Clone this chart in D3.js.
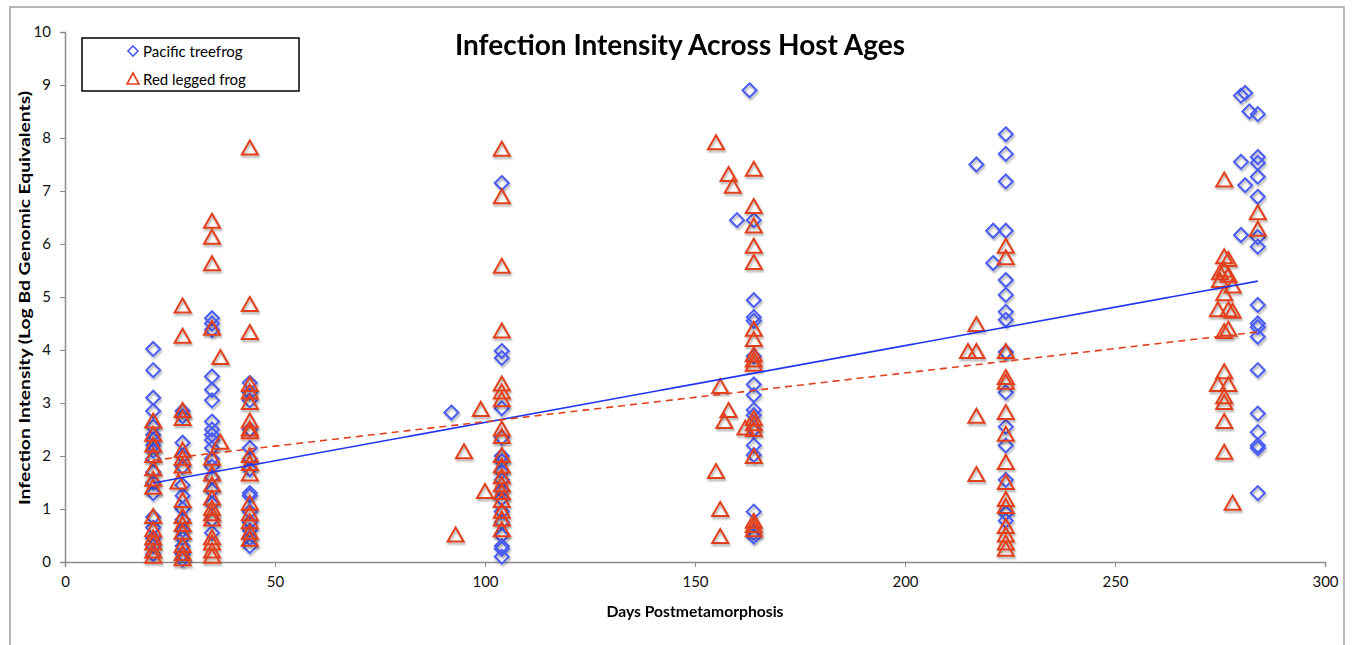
<!DOCTYPE html>
<html>
<head>
<meta charset="utf-8">
<script src="https://cdn.jsdelivr.net/npm/d3@7"></script>
<style>
  body { margin: 0; background: #fff; }
  svg { font-family: Lato, "Open Sans", sans-serif; }
</style>
</head>
<body>
<svg id="chart" width="1354" height="645"></svg>
<script>
// DATA: [days postmetamorphosis, log Bd genomic equivalents]
var pacificTreefrog = [
  [21,4.02],[21,3.62],[21,3.1],[21,2.85],[21,2.55],[21,2.4],[21,2.3],[21,2.2],[21,2.1],[21,1.95],[21,1.7],[21,1.5],[21,1.3],[21,0.85],[21,0.65],[21,0.45],[21,0.3],[21,0.15],
  [28,2.85],[28,2.75],[28,2.25],[28,2.0],[28,1.8],[28,1.45],[28,1.25],[28,1.0],[28,0.8],[28,0.6],[28,0.45],[28,0.3],[28,0.15],[28,0.05],
  [35,4.6],[35,4.5],[35,4.38],[35,3.5],[35,3.25],[35,3.05],[35,2.65],[35,2.5],[35,2.4],[35,2.3],[35,2.15],[35,1.95],[35,1.8],[35,1.6],[35,1.35],[35,1.1],[35,0.8],[35,0.55],
  [44,3.38],[44,3.2],[44,3.05],[44,2.5],[44,2.15],[44,1.95],[44,1.75],[44,1.3],[44,1.25],[44,0.95],[44,0.75],[44,0.6],[44,0.45],[44,0.3],
  [92,2.82],
  [104,7.15],[104,3.98],[104,3.85],[104,2.9],[104,2.35],[104,2.0],[104,1.9],[104,1.7],[104,1.55],[104,1.35],[104,1.2],[104,0.95],[104,0.75],[104,0.5],[104,0.3],[104,0.25],[104,0.1],
  [160,6.45],[163,8.9],
  [164,6.45],[164,4.94],[164,4.62],[164,4.55],[164,3.88],[164,3.35],[164,3.15],[164,2.87],[164,2.77],[164,2.5],[164,2.2],[164,2.02],[164,0.95],[164,0.55],[164,0.48],
  [217,7.5],[221,6.25],[221,5.64],
  [224,8.07],[224,7.7],[224,7.18],[224,6.25],[224,5.32],[224,5.04],[224,4.72],[224,4.57],[224,3.96],[224,3.2],[224,2.55],[224,2.2],[224,1.55],[224,0.92],[224,0.78],
  [280,8.8],[280,7.55],[280,6.17],[281,8.85],[281,7.11],[282,8.5],
  [284,8.45],[284,7.64],[284,7.53],[284,7.27],[284,6.89],[284,6.13],[284,5.95],[284,4.85],[284,4.5],[284,4.43],[284,4.25],[284,3.62],[284,2.8],[284,2.45],[284,2.2],[284,2.15],[284,1.3]
];

var redLeggedFrog = [
  [21,2.65],[21,2.4],[21,2.2],[21,2.0],[21,1.75],[21,1.55],[21,1.4],[21,0.85],[21,0.6],[21,0.45],[21,0.35],[21,0.2],[21,0.1],
  [27,1.5],
  [28,4.82],[28,4.25],[28,2.85],[28,2.7],[28,2.1],[28,1.95],[28,1.8],[28,1.15],[28,0.85],[28,0.7],[28,0.55],[28,0.3],[28,0.15],[28,0.05],
  [35,6.42],[35,6.12],[35,5.62],[35,4.4],[35,1.95],[35,1.65],[35,1.45],[35,1.2],[35,1.0],[35,0.9],[35,0.8],[35,0.45],[35,0.35],[35,0.2],[35,0.1],
  [37,3.85],[37,2.25],
  [44,7.8],[44,4.85],[44,4.32],[44,3.34],[44,3.2],[44,3.0],[44,2.65],[44,2.5],[44,2.45],[44,2.0],[44,1.85],[44,1.65],[44,1.1],[44,0.9],[44,0.75],[44,0.55],[44,0.42],
  [93,0.5],[95,2.07],[99,2.87],[100,1.32],
  [104,7.78],[104,6.88],[104,5.57],[104,4.35],[104,3.35],[104,3.2],[104,3.05],[104,2.5],[104,2.36],[104,2.0],[104,1.8],[104,1.6],[104,1.45],[104,1.3],[104,1.15],[104,0.95],[104,0.8],[104,0.6],
  [155,7.9],[155,1.7],[156,3.3],[156,0.98],[156,0.47],[157,2.64],[158,7.3],[158,2.85],[159,7.08],[162,2.52],
  [164,7.4],[164,6.7],[164,6.33],[164,5.95],[164,5.64],[164,4.38],[164,4.19],[164,3.9],[164,3.8],[164,3.72],[164,2.7],[164,2.6],[164,2.49],[164,1.98],[164,0.76],[164,0.68],[164,0.6],
  [215,3.96],[217,4.47],[217,3.96],[217,2.74],[217,1.64],
  [224,5.95],[224,5.73],[224,3.96],[224,3.47],[224,3.38],[224,2.81],[224,2.4],[224,1.87],[224,1.49],[224,1.17],[224,1.04],[224,0.66],[224,0.5],[224,0.35],[224,0.23],
  [274.5,4.75],[274.5,3.34],[275,5.45],[275,5.3],
  [276,7.2],[276,5.75],[276,5.5],[276,5.05],[276,4.34],[276,3.58],[276,3.11],[276,3.0],[276,2.64],[276,2.06],
  [277,5.7],[277,5.4],[277,4.75],[277,4.38],[277,3.34],
  [278,5.2],[278,4.72],[278,1.1],
  [284,6.58],[284,6.27]
];

// linear trend lines, endpoints
var pacificTrend = [[21,1.49],[284,5.3]];
var redTrend = [[21,1.92],[284,4.34]];

var xTicks = [0,50,100,150,200,250,300];
var yTicks = [0,1,2,3,4,5,6,7,8,9,10];

var blue = "#4b5cf2";
var red = "#e2401d";

// SETUP

var svg = d3.select("#chart");

var x = d3.scaleLinear().domain([0,300]).range([65,1325]);
var y = d3.scaleLinear().domain([0,10]).range([562,32]);

var defs = svg.append("defs");
var f = defs.append("filter").attr("id","shadow").attr("x","-50%").attr("y","-50%").attr("width","200%").attr("height","200%");
f.append("feDropShadow").attr("dx",1).attr("dy",2).attr("stdDeviation",1).attr("flood-color","#000").attr("flood-opacity",0.35);

// outer frame
svg.append("rect").attr("x",10).attr("y",7).attr("width",1334).attr("height",660)
  .attr("fill","none").attr("stroke","#a0a0a0").attr("stroke-width",1.5);

// axes
var xAxis = svg.append("g").attr("transform","translate(0," + y(0) + ")")
  .call(d3.axisBottom(x).tickValues(xTicks).tickSize(5).tickPadding(9).tickFormat(d3.format("d")));
var yAxis = svg.append("g").attr("transform","translate(" + x(0) + ",0)")
  .call(d3.axisLeft(y).tickValues(yTicks).tickSize(5).tickPadding(9).tickFormat(d3.format("d")));

[xAxis, yAxis].forEach(function(a) {
  a.select(".domain").attr("stroke","#8c8c8c").attr("stroke-width",1.5);
  a.selectAll(".tick line").attr("stroke","#8c8c8c").attr("stroke-width",1);
  a.selectAll(".tick text").attr("font-size",15).attr("fill","#111").attr("font-family","Lato, sans-serif");
});

// markers
var diamond = "M0,-7L7,0L0,7L-7,0Z";
var triangle = "M0,-8L8,6L-8,6Z";

svg.append("g").attr("filter","url(#shadow)").selectAll("path").data(pacificTreefrog).enter()
  .append("path").attr("d", diamond)
  .attr("transform", function(d) { return "translate(" + x(d[0]) + "," + y(d[1]) + ")"; })
  .attr("fill","none").attr("stroke",blue).attr("stroke-width",2);

svg.append("g").attr("filter","url(#shadow)").selectAll("path").data(redLeggedFrog).enter()
  .append("path").attr("d", triangle)
  .attr("transform", function(d) { return "translate(" + x(d[0]) + "," + y(d[1]) + ")"; })
  .attr("fill","none").attr("stroke",red).attr("stroke-width",2);

// trend lines
var line = d3.line().x(function(d) { return x(d[0]); }).y(function(d) { return y(d[1]); });
svg.append("path").datum(pacificTrend).attr("d", line).attr("fill","none").attr("stroke","#1f35f0").attr("stroke-width",1.6);
svg.append("path").datum(redTrend).attr("d", line).attr("fill","none").attr("stroke",red).attr("stroke-width",1.6).attr("stroke-dasharray","7,5");

// title and axis labels
svg.append("text").attr("x",680).attr("y",55).attr("text-anchor","middle")
  .attr("font-size",28).attr("font-weight","bold").attr("fill","#000")
  .text("Infection Intensity Across Host Ages");

svg.append("text").attr("x",695).attr("y",617).attr("text-anchor","middle")
  .attr("font-size",15).attr("font-weight","bold").attr("fill","#000")
  .attr("textLength",177).attr("lengthAdjust","spacingAndGlyphs")
  .text("Days Postmetamorphosis");

svg.append("text").attr("transform","translate(30,298) rotate(-90)").attr("text-anchor","middle")
  .attr("font-size",15).attr("font-weight","bold").attr("fill","#000")
  .attr("textLength",414).attr("lengthAdjust","spacingAndGlyphs")
  .text("Infection Intensity (Log Bd Genomic Equivalents)");

// legend
var legend = svg.append("g");
legend.append("rect").attr("x",82).attr("y",38).attr("width",217).attr("height",53)
  .attr("fill","#fff").attr("stroke","#000").attr("stroke-width",1.5);
legend.append("path").attr("d","M0,-5L5,0L0,5L-5,0Z").attr("transform","translate(133,51)")
  .attr("fill","none").attr("stroke",blue).attr("stroke-width",1.6);
legend.append("path").attr("d","M0,-6L6,5L-6,5Z").attr("transform","translate(133,79)")
  .attr("fill","none").attr("stroke",red).attr("stroke-width",1.6);
legend.append("text").attr("x",143).attr("y",57).attr("font-size",15).text("Pacific treefrog");
legend.append("text").attr("x",143).attr("y",85).attr("font-size",15).text("Red legged frog");
</script>
</body>
</html>
